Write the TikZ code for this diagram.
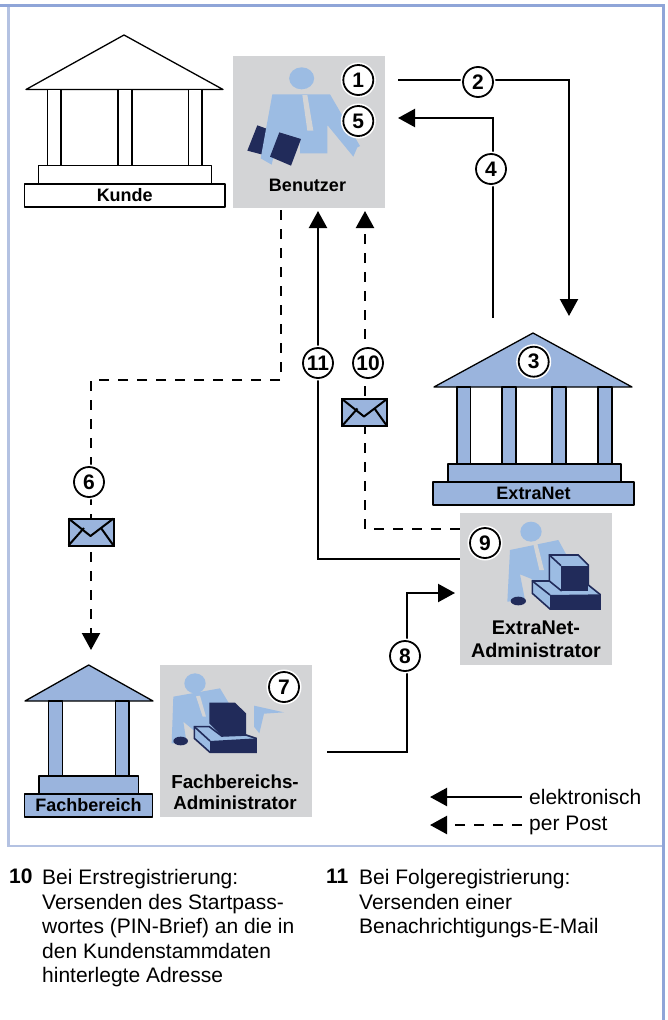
\documentclass[tikz,border=0pt]{standalone}
\usepackage{fontspec}
\setmainfont{Liberation Sans}
\usetikzlibrary{arrows.meta}
\definecolor{buildblue}{HTML}{9AB4DD}
\definecolor{personblue}{HTML}{9CBCE3}
\definecolor{navy}{HTML}{212B5A}
\definecolor{boxgray}{HTML}{D3D4D6}
\definecolor{frameblue}{HTML}{8FA5D8}
\definecolor{framelight}{HTML}{B4C2E2}
\newcommand{\fs}[1]{\fontsize{#1}{#1}\selectfont}
\tikzset{
  x=1pt,y=-1pt,
  elec/.style={draw=black,line width=2.2pt,-{Triangle[length=17pt,width=18pt]}},
  elecplain/.style={draw=black,line width=2.2pt},
  post/.style={elec,dash pattern=on 10pt off 9pt},
  postplain/.style={elecplain,dash pattern=on 10pt off 9pt},
  bline/.style={draw=black,line width=1.3pt,line join=round},
  bwhite/.style={bline,fill=white},
  bblue/.style={bline,fill=buildblue},
  baselabel/.style={rectangle,bline,inner sep=0pt,font=\fs{18}\bfseries,text=black},
  graybox/.style={rectangle,fill=boxgray,minimum width=152pt,minimum height=152pt,inner sep=0pt},
  boxlabel/.style={inner sep=0pt,align=center,text=black},
  num/.style={circle,draw=black,fill=white,line width=1.8pt,minimum size=30pt,inner sep=0pt,font=\fs{21}\bfseries,text=black,preaction={draw=white,line width=5pt}},
  person/.style={fill=personblue},
  dark/.style={fill=navy},
  pcline/.style={draw=navy,line width=1.6pt,line join=miter,fill=personblue},
  notes/.style={inner sep=0pt,anchor=north west,align=left,font=\fontsize{21}{24.6}\selectfont,text=black},
  legendt/.style={inner sep=0pt,anchor=west,font=\fs{21},text=black},
  mail/.pic={
    \draw[line width=2pt,draw=black,fill=buildblue] (-22.5,-13.5) rectangle (22.5,13.5);
    \draw[line width=2pt,line join=round] (-22.5,-13.5) -- (-0.5,4) -- (22.5,-13.5);
    \draw[line width=2pt] (-22.5,13.5) -- (-7,-4) (22.5,13.5) -- (10,-4);
  }
}
\begin{document}
\begin{tikzpicture}
\useasboundingbox (0,0) rectangle (667,1020);
% frame
\draw[framelight,line width=2.5pt] (8.5,5) -- (8.5,846) -- (662,846);
\draw[frameblue,line width=3pt] (0,5) -- (663,5);
\draw[frameblue,line width=3pt] (663,4) -- (663,1020);

% Kunde building
\draw[bwhite] (26,89.5) -- (124,35) -- (223,89.5) -- cycle;
\draw[bwhite] (47.5,89.5) rectangle (61,165.5);
\draw[bwhite] (118,89.5) rectangle (132,165.5);
\draw[bwhite] (188.5,89.5) rectangle (202,165.5);
\draw[bwhite] (38.5,165.5) rectangle (211.5,184);
\node[baselabel,fill=white,minimum width=200.5pt,minimum height=23pt] (kunde) at (124.75,195.5) {Kunde};

% ExtraNet building
\draw[bblue] (434,387) -- (533,333) -- (632,387) -- cycle;
\draw[bblue] (457,387) rectangle (470.5,464);
\draw[bblue] (502,387) rectangle (516,464);
\draw[bblue] (552,387) rectangle (566,464);
\draw[bblue] (598,387) rectangle (612,464);
\draw[bblue] (448,464) rectangle (621,482);
\node[baselabel,fill=buildblue,minimum width=201pt,minimum height=23pt] (extranet) at (533.5,493.5) {ExtraNet};

% Fachbereich building
\draw[bblue] (25,701) -- (88.7,665) -- (153,701) -- cycle;
\draw[bblue] (48.3,701) rectangle (62.3,776);
\draw[bblue] (115.3,701) rectangle (129,776);
\draw[bblue] (39,776) rectangle (138.7,794);
\node[baselabel,fill=buildblue,minimum width=128.5pt,minimum height=23pt] (fachbereich) at (88.5,805.5) {Fachbereich};

% Benutzer box
\node[graybox] (benutzer) at (309,132) {};
\begin{scope}[shift={(220,40)},scale=0.33333]
  \fill[dark] (112,256) -- (145,268) -- (128,344) -- (82,332) -- cycle;
  \fill[person] (157,163) -- (330,163) -- (420,318) -- (412,322) -- (400,350) -- (322,255) -- (322,340) -- (240,340) -- (240,297) -- (178,277) -- (155,374) -- (122,355) -- cycle;
  \fill[person] (245,115) ellipse [x radius=37.5,y radius=33];
  \fill[boxgray] (247,165) -- (262,165) -- (280,272) -- (262,272) -- cycle;
  \fill[dark] (178,277) -- (243,297) -- (213,377) -- (150,350) -- cycle;
\end{scope}
\node[boxlabel,font=\fs{18}\bfseries] (benutzerlabel) at (307.5,185) {Benutzer};

% ExtraNet admin box
\node[graybox] (exadmin) at (536,589) {};
\begin{scope}[shift={(450,505)},scale=0.33333]
  \fill[person] (180,135) -- (325,105) -- (355,160) -- (355,260) -- (250,260) -- (245,222) -- (210,208) -- (225,285) -- (172,290) -- cycle;
  \fill[person] (243,80) ellipse [x radius=32,y radius=30];
  \fill[boxgray] (250,118) -- (262,116) -- (282,195) -- (268,195) -- cycle;
  \fill[dark] (205,288) ellipse [x radius=23,y radius=13];
  \path[pcline] (298,150) -- (385,150) -- (415,180) -- (415,240) -- (450,268) -- (450,312) -- (300,312) -- (247,265) -- (247,228) -- (298,228) -- cycle;
  \draw[navy,line width=1.6pt] (298,150) -- (333,182) (247,228) -- (300,270) (298,228) -- (335,258);
  \fill[dark] (333,182) -- (415,182) -- (415,258) -- (333,258) -- cycle;
  \fill[dark] (300,270) -- (450,268) -- (450,312) -- (300,312) -- cycle;
\end{scope}
\node[boxlabel,font=\fontsize{19.8}{23}\selectfont\bfseries] (exadminlabel) at (536,639.5) {ExtraNet-\\Administrator};

% Fachbereichs admin box
\node[graybox] (fbadmin) at (236,741) {};
\begin{scope}[shift={(150,655)},scale=0.33333]
  \fill[person] (70,125) -- (210,100) -- (240,150) -- (240,240) -- (130,225) -- (100,200) -- (110,265) -- (65,265) -- cycle;
  \fill[person] (135,85) ellipse [x radius=32,y radius=30];
  \fill[person] (312,152) -- (402,172) -- (342,176) -- (328,235) -- (312,215) -- cycle;
  \fill[boxgray] (138,124) -- (150,122) -- (168,185) -- (158,185) -- cycle;
  \fill[dark] (92,258) ellipse [x radius=22,y radius=13];
  \path[pcline] (133,215) -- (178,215) -- (215,243) -- (288,240) -- (318,250) -- (318,292) -- (180,292) -- (133,250) -- cycle;
  \draw[navy,line width=1.6pt] (133,215) -- (180,258);
  \fill[dark] (178,143) -- (255,143) -- (288,175) -- (288,240) -- (215,243) -- (178,205) -- cycle;
  \fill[dark] (180,258) -- (318,250) -- (318,292) -- (180,292) -- cycle;
\end{scope}
\node[boxlabel,font=\fontsize{18.8}{21.5}\selectfont\bfseries] (fbadminlabel) at (235,792.5) {Fachbereichs-\\Administrator};

% connector ends
\coordinate (a1) at (398,80);
\coordinate (a1c) at (569,80);
\coordinate (a1e) at (569,316);
\coordinate (a4) at (493,318);
\coordinate (a4c) at (493,118);
\coordinate (a4e) at (398,118);
\coordinate (d6) at (281,210);
\coordinate (d6a) at (281,380);
\coordinate (d6b) at (91,380);
\coordinate (d6e) at (91,650);
\coordinate (e11) at (318,211);
\coordinate (c11) at (318,559);
\coordinate (e10) at (365,211);
\coordinate (c10) at (365,529);
\coordinate (s8) at (327,752);
\coordinate (b8a) at (407,752);
\coordinate (b8b) at (407,593);
\coordinate (e8) at (455,593);
\coordinate (l1a) at (522,797);
\coordinate (l1b) at (430,797);
\coordinate (l2a) at (522,825);
\coordinate (l2b) at (430,825);

\draw[elec] (a1) -- (a1c) -- (a1e);
\draw[elec] (a4) -- (a4c) -- (a4e);
\draw[post] (d6) -- (d6a) -- (d6b) -- (d6e);
\draw[elec] (exadmin.west |- c11) -- (c11) -- (e11);
\draw[post] (exadmin.west |- c10) -- (c10) -- (e10);
\draw[elec] (s8) -- (b8a) -- (b8b) -- (e8);
\draw[elec] (l1a) -- (l1b);
\draw[post] (l2a) -- (l2b);

% envelopes
\pic at (364.5,412.5) {mail};
\pic at (91,532) {mail};

% numbers
\node[num] (n1) at (358.3,80) {1};
\node[num] (n2) at (478,82) {2};
\node[num] (n3) at (533.7,361.7) {3};
\node[num] (n4) at (491,169) {4};
\node[num] (n5) at (358.3,121) {5};
\node[num] (n6) at (89,482) {6};
\node[num] (n7) at (284,687) {7};
\node[num] (n8) at (405,656) {8};
\node[num] (n9) at (485,543) {9};
\node[num] (n10) at (368,363) {10};
\node[num] (n11) at (318,363) {11};

% legend
\node[legendt] (legel) at (529,797) {elektronisch};
\node[legendt] (legpo) at (529,825) {per Post};

% notes
\node[notes,font=\fontsize{21}{24.6}\selectfont\bfseries] (t10) at (9,869) {10};
\node[notes] (b10) at (42,869) {Bei Erstregistrierung:\\Versenden des Startpass-\\wortes (PIN-Brief) an die in\\den Kundenstammdaten\\hinterlegte Adresse};
\node[notes,font=\fontsize{21}{24.6}\selectfont\bfseries] (t11) at (326,869) {11};
\node[notes] (b11) at (359,869) {Bei Folgeregistrierung:\\Versenden einer\\Benachrichtigungs-E-Mail};
\end{tikzpicture}
\end{document}
